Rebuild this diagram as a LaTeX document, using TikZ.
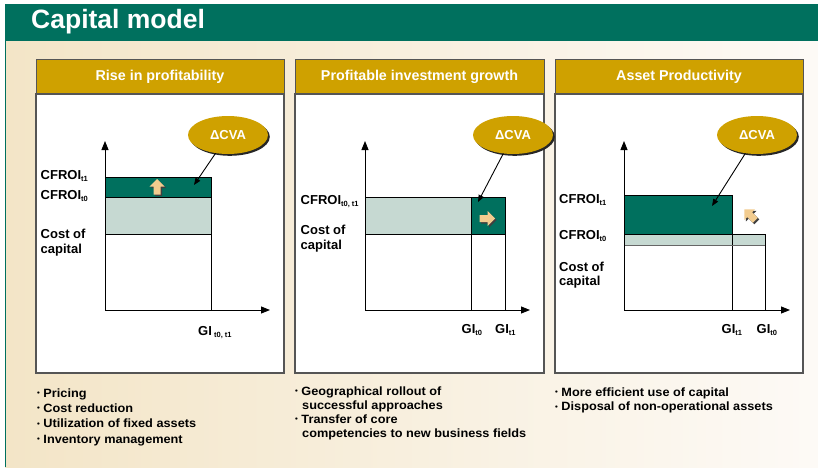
\documentclass[tikz,border=0pt]{standalone}
\usepackage{fontspec}
\setmainfont{Liberation Sans}
\newfontfamily\bfontfam{Liberation Sans}[FakeStretch=1.06]
\usetikzlibrary{shapes.geometric,arrows.meta,shadows}
\definecolor{cgreen}{RGB}{0,112,94}
\definecolor{clight}{RGB}{198,217,210}
\definecolor{cgold}{RGB}{207,161,0}
\definecolor{cbeige}{RGB}{243,229,199}
\definecolor{cwhite}{RGB}{253,250,246}
\definecolor{carrow}{RGB}{242,204,143}
\definecolor{cframe}{RGB}{85,85,85}
\newcommand\fsz[1]{\fontsize{#1}{#1}\selectfont}
\newcommand\lsub[1]{\raisebox{-2.5pt}{\fsz{7.5}#1}}
\newcommand\bul{\raisebox{1.2pt}{\fsz{7.5}•}\hspace{3.5pt}}
\begin{document}
\begin{tikzpicture}[x=1pt,y=-1pt,
  hdr/.style={fill=cgold,draw=cframe,line width=1pt,minimum height=34pt,text=white,font=\bfseries\fsz{14.3},inner sep=0pt},
  body/.style={fill=white,draw=cframe,line width=1.2pt,minimum height=279pt,inner sep=0pt},
  lbl/.style={anchor=base west,font=\bfseries\fsz{13},inner sep=0pt},
  bl/.style={anchor=base west,font=\bfontfam\bfseries\fsz{12},inner sep=0pt},
  cva/.style={ellipse,fill=cgold,minimum width=80pt,minimum height=38pt,inner sep=0pt,text=white,font=\bfseries\fsz{13},general shadow={fill=black!85,shadow xshift=1.8pt,shadow yshift=-1.8pt}},
  axis/.style={line width=0.9pt,-{Triangle[length=9pt,width=7pt]}},
  cvaarr/.style={line width=0.9pt,-{Triangle[length=7pt,width=5.5pt]}},
  chart/.style={line width=0.9pt},
  pics/barrow/.style={code={
    \fill[black!75,shift={(1.5,1.5)},rotate=#1] (0,-8)--(7.5,-0.5)--(3.5,-0.5)--(3.5,7.5)--(-3.5,7.5)--(-3.5,-0.5)--(-7.5,-0.5)--cycle;
    \fill[carrow,rotate=#1] (0,-8)--(7.5,-0.5)--(3.5,-0.5)--(3.5,7.5)--(-3.5,7.5)--(-3.5,-0.5)--(-7.5,-0.5)--cycle;
  }}
]
\useasboundingbox (0,0) rectangle (818,468);
% background
\fill[white] (0,0) rectangle (818,468);
\shade[left color=cbeige,right color=cwhite] (5,41) rectangle (818,467);
\fill[cgreen] (5,4) rectangle (818,41);
\draw[cgreen,line width=1pt] (5.5,41) -- (5.5,467);
\node[anchor=base west,text=white,font=\bfseries\fsz{26.5},inner sep=0pt] (title) at (31,29) {Capital model};

% panels
\node[body,minimum width=248pt] (p1) at (160,233.5) {};
\node[body,minimum width=249pt] (p2) at (419.5,233.5) {};
\node[body,minimum width=248pt] (p3) at (679,233.5) {};
\node[hdr,minimum width=248pt] (h1) at (160,77) {Rise in profitability};
\node[hdr,minimum width=249pt] (h2) at (419.5,77) {Profitable investment growth};
\node[hdr,minimum width=248pt] (h3) at (679,77) {Asset Productivity};

% ---------- panel 1 chart
\fill[cgreen] (105,177) rectangle (211,197);
\fill[clight] (105,197) rectangle (211,234);
\draw[chart] (105,177) -| (211,310);
\draw[chart] (105,197) -- (211,197);
\draw[chart] (105,234) -- (211,234);
\coordinate (o1) at (105,310);
\coordinate (y1) at (105,141);
\coordinate (x1) at (270,310);
\draw[axis] (o1) -- (y1);
\draw[axis] (o1) -- (x1);
\pic at (157,187) {barrow=0};
\node[lbl] (l11) at (40.5,179) {CFROI\lsub{t1}};
\node[lbl] (l12) at (40.5,199) {CFROI\lsub{t0}};
\node[lbl] (l13) at (40.5,238) {Cost of};
\node[lbl] (l14) at (40.5,253) {capital};
\node[lbl] (g1) at (198,335) {GI\,\lsub{t0, t1}};
\node[cva] (e1) at (228,135) {ΔCVA};
\coordinate (t1) at (194,185);
\draw[cvaarr] (e1) -- (t1);

% ---------- panel 2 chart
\fill[clight] (365,197) rectangle (471,234);
\fill[cgreen] (471,197) rectangle (505,234);
\draw[chart] (365,197) -| (505,310);
\draw[chart] (365,234) -- (505,234);
\draw[chart] (471,197) -- (471,310);
\coordinate (o2) at (365,310);
\coordinate (y2) at (365,141);
\coordinate (x2) at (530,310);
\draw[axis] (o2) -- (y2);
\draw[axis] (o2) -- (x2);
\pic at (487,218.5) {barrow=-90};
\node[lbl] (l21) at (300.5,204) {CFROI\lsub{t0, t1}};
\node[lbl] (l22) at (300.5,234) {Cost of};
\node[lbl] (l23) at (300.5,249) {capital};
\node[lbl] (g21) at (461.5,333) {GI\lsub{t0}};
\node[lbl] (g22) at (495,333) {GI\lsub{t1}};
\node[cva] (e2) at (513,135) {ΔCVA};
\coordinate (t2) at (478,202);
\draw[cvaarr] (e2) -- (t2);

% ---------- panel 3 chart
\fill[cgreen] (624,195) rectangle (732,234);
\fill[clight] (624,234) rectangle (765,245);
\draw[chart] (624,195) -| (732,310);
\draw[chart] (732,234) -| (765,310);
\draw[chart] (624,234) -- (732,234);
\draw[chart,black!60] (624,245) -- (765,245);
\coordinate (o3) at (624,310);
\coordinate (y3) at (624,141);
\coordinate (x3) at (790,310);
\draw[axis] (o3) -- (y3);
\draw[axis] (o3) -- (x3);
\pic at (750,215) {barrow=45};
\node[lbl] (l31) at (559,203) {CFROI\lsub{t1}};
\node[lbl] (l32) at (559,239) {CFROI\lsub{t0}};
\node[lbl] (l33) at (559,271) {Cost of};
\node[lbl] (l34) at (559,285.5) {capital};
\node[lbl] (g31) at (721.5,333) {GI\lsub{t1}};
\node[lbl] (g32) at (756.5,333) {GI\lsub{t0}};
\node[cva] (e3) at (757,135) {ΔCVA};
\coordinate (t3) at (712,206);
\draw[cvaarr] (e3) -- (t3);

% ---------- bullets
\node[bl] (b11) at (37,397) {\bul Pricing};
\node[bl] (b12) at (37,412) {\bul Cost reduction};
\node[bl] (b13) at (37,427.5) {\bul Utilization of fixed assets};
\node[bl] (b14) at (37,443) {\bul Inventory management};

\node[bl] (b21) at (295,395) {\bul Geographical rollout of};
\node[bl] (b22) at (302,409) {successful approaches};
\node[bl] (b23) at (295,423) {\bul Transfer of core};
\node[bl] (b24) at (302,437) {competencies to new business fields};

\node[bl] (b31) at (555,396) {\bul More efficient use of capital};
\node[bl] (b32) at (555,410.5) {\bul Disposal of non-operational assets};
\end{tikzpicture}
\end{document}
